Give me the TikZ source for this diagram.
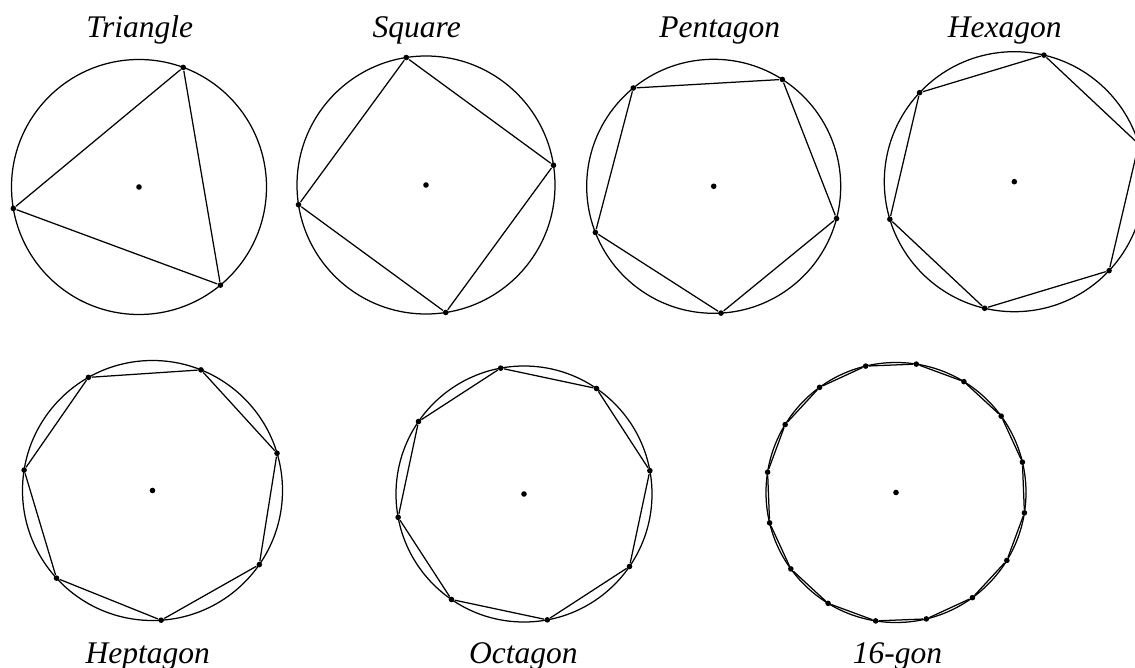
\documentclass[tikz,border=0pt]{standalone}
\usepackage{fontspec}
\setmainfont{Liberation Serif}
\usepackage{tikz}
\tikzset{
  pkt/.style={circle, fill=black, inner sep=0pt, minimum size=5.6pt},
  titel/.style={anchor=base, font=\fontsize{31.5}{37}\selectfont\itshape}
}

\begin{document}
\begin{tikzpicture}[x=1pt, y=-1pt, line width=1.25pt]
				% Bildbereich
				\useasboundingbox (0,0) rectangle (1135,668);
				% Kreise, Ecken, Kanten und Namen
				\foreach \cx/\cy/\rad/\n/\w/\txt/\lx/\ly [count=\i] in {
						139/187/127.5/3/69.7/Triangle/139.7/37.3,
						426/185/129/4/8.8/Square/416.7/37.3,
						713.7/186.3/127/5/57.3/Pentagon/719.7/37.3,
						1014.3/181.7/130/6/76.8/Hexagon/1004.7/37.3,
						152.5/490.5/130/7/68.1/Heptagon/147.7/663,
						524/494/128/8/10.5/Octagon/523.3/663,
						896/492.5/130/16/13.5/16-gon/897.5/663}
				{
					\node[pkt] (m\i) at (\cx,\cy) {};
					\draw (m\i.center) circle (\rad);
					\foreach \k in {1,...,\n} {
						\pgfmathsetmacro\ang{-\w-360/\n*(\k-1)}
						\node[pkt] (e\i-\k) at ([shift={({\ang}:{\rad})}]m\i.center) {};
					}
					\foreach \k in {1,...,\n} {
						\pgfmathtruncatemacro\nk{mod(\k,\n)+1}
						\draw (e\i-\k) -- (e\i-\nk);
					}
					\node[titel] (t\i) at (\lx,\ly) {\txt};
				}
			\end{tikzpicture}
\end{document}
